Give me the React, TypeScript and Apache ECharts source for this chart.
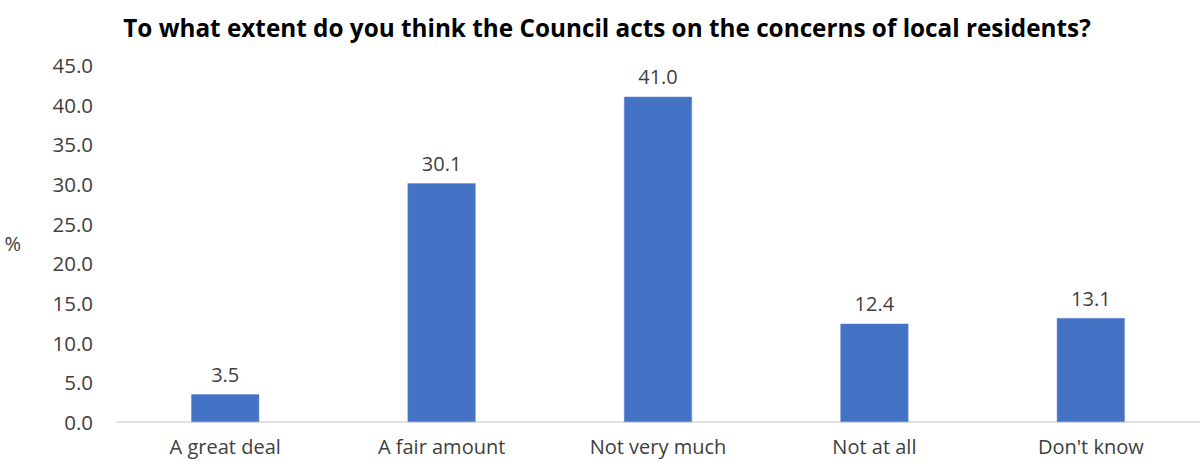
import React, { useEffect, useRef } from "react";
import * as echarts from "echarts";

const categories = ["A great deal", "A fair amount", "Not very much", "Not at all", "Don't know"];
const values = [3.5, 30.1, 41.0, 12.4, 13.1];
const titleText = "To what extent do you think the Council acts on the concerns of local residents?";

export default function App() {
  const ref = useRef<HTMLDivElement>(null);
  useEffect(() => {
    if (!ref.current) return;
    const chart = echarts.init(ref.current, null, { renderer: "svg" });
    const font = "Open Sans";
    chart.setOption({
      animation: false,
      backgroundColor: "#ffffff",
      title: {
        text: titleText,
        left: 602,
        top: 10,
        textAlign: "center",
        textStyle: { fontFamily: font, fontWeight: "bold", fontSize: 24.3, color: "#000000" },
      },
      grid: { left: 117, right: 1, top: 65, bottom: 44, containLabel: false },
      xAxis: {
        type: "category",
        data: categories,
        axisLine: { lineStyle: { color: "#d9d9d9", width: 1.5 } },
        axisTick: { show: false },
        axisLabel: { fontFamily: font, fontSize: 20, color: "#404040", margin: 14 },
      },
      yAxis: {
        type: "value",
        name: "%",
        nameLocation: "middle",
        nameRotate: 0,
        nameGap: 96,
        nameTextStyle: { fontFamily: font, fontSize: 20, color: "#404040", padding: [0, 0, 8, 0] },
        min: 0,
        max: 45,
        interval: 5,
        splitLine: { show: false },
        axisLine: { show: false },
        axisTick: { show: false },
        axisLabel: {
          fontFamily: font,
          fontSize: 20.5,
          color: "#404040",
          margin: 24,
          formatter: (v: number) => v.toFixed(1),
        },
      },
      series: [
        {
          type: "bar",
          data: values,
          barWidth: 68,
          itemStyle: { color: "#4472C4", borderColor: "#6a8fd3", borderWidth: 0.5 },
          label: {
            show: true,
            position: "top",
            distance: 10,
            fontFamily: font,
            fontSize: 20,
            color: "#404040",
            formatter: (p: any) => Number(p.value).toFixed(1),
          },
        },
      ],
    });
    return () => chart.dispose();
  }, []);
  return <div ref={ref} style={{ position: "fixed", left: 0, top: 0, width: 1200, height: 466 }} />;
}
